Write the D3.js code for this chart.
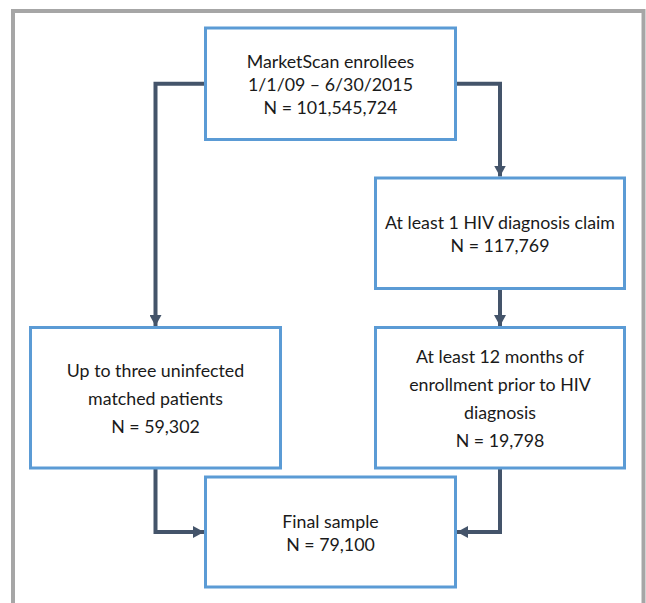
<!DOCTYPE html>
<html>
<head>
<meta charset="utf-8">
<script src="https://cdn.jsdelivr.net/npm/d3@7"></script>
<style>
  html, body { margin: 0; padding: 0; background: #fff; }
  svg { display: block; }
</style>
</head>
<body>
<div id="chart"></div>
<script>
const WIDTH = 646
const HEIGHT = 603

// box texts (one array entry per line)
const startLines = ["MarketScan enrollees", "1/1/09 \u2013 6/30/2015", "N = 101,545,724"]
const hivLines = ["At least 1 HIV diagnosis claim", "N = 117,769"]
const enrollLines = ["At least 12 months of", "enrollment prior to HIV", "diagnosis", "N = 19,798"]
const matchedLines = ["Up to three uninfected", "matched patients", "N = 59,302"]
const finalLines = ["Final sample", "N = 79,100"]

const nodeIds = ["start", "hiv", "enroll", "matched", "final"]
const nodeTexts = [startLines, hivLines, enrollLines, matchedLines, finalLines]

// which box feeds which
const edges = [
    { source: "start", target: "matched", from: "left" },
    { source: "start", target: "hiv", from: "right" },
    { source: "hiv", target: "enroll", from: "bottom" },
    { source: "matched", target: "final", from: "bottom", to: "left" },
    { source: "enroll", target: "final", from: "bottom", to: "right" }
]

// layout: column / row grid, mapped to pixels through scales
const layout = {
    start:   { col: 1, row: 0 },
    hiv:     { col: 2, row: 1 },
    enroll:  { col: 2, row: 2 },
    matched: { col: 0, row: 2 },
    final:   { col: 1, row: 3 }
}

const BOX_W = 250
const ARROW = "#44546a"
const BOX = "#5b9bd5"

let colX = d3.scaleOrdinal().domain([0, 1, 2]).range([30.5, 205.5, 375.5])
let rowY = d3.scaleOrdinal().domain([0, 1, 2, 3]).range([28, 178, 327.5, 477])
let rowH = d3.scaleOrdinal().domain([0, 1, 2, 3]).range([111.5, 110.5, 140.5, 110])
// the lower pair of boxes is set with looser line spacing
let rowLine = d3.scaleOrdinal().domain([0, 1, 2, 3]).range([23.3, 23.3, 28, 23.3])

let nodes = nodeIds.map((id, i) => {
    let l = layout[id]
    let x0 = colX(l.col)
    let y0 = rowY(l.row)
    return {
        id: id,
        lines: nodeTexts[i],
        lineH: rowLine(l.row),
        x0: x0,
        y0: y0,
        x1: x0 + BOX_W - (l.col == 2 ? 1 : 0),
        y1: y0 + rowH(l.row)
    }
})
let byId = {}
nodes.forEach(n => byId[n.id] = n)

const svg = d3.select("#chart")
    .append("svg")
    .attr("width", WIDTH)
    .attr("height", HEIGHT)
    .attr("viewBox", [0, 0, WIDTH, HEIGHT])

// outer frame
svg.append("rect")
    .attr("x", 13)
    .attr("y", 11)
    .attr("width", 630.5)
    .attr("height", 640)
    .attr("fill", "none")
    .attr("stroke", "#a6a6a6")
    .attr("stroke-width", 4)

svg.append("defs")
    .append("marker")
    .attr("id", "head")
    .attr("viewBox", "0 0 12 12")
    .attr("refX", 12)
    .attr("refY", 6)
    .attr("markerWidth", 11)
    .attr("markerHeight", 12)
    .attr("markerUnits", "userSpaceOnUse")
    .attr("orient", "auto")
    .attr("preserveAspectRatio", "none")
    .append("path")
    .attr("d", "M0,0 L12,6 L0,12 Z")
    .attr("fill", ARROW)

function cx(n) { return (n.x0 + n.x1) / 2 }
function cy(n) { return (n.y0 + n.y1) / 2 }

// elbow connectors
function edgePath(e) {
    let s = byId[e.source]
    let t = byId[e.target]
    let p = d3.path()
    if (e.from == "left") {
        p.moveTo(s.x0, cy(s))
        p.lineTo(cx(t), cy(s))
        p.lineTo(cx(t), t.y0 - 1.5)
    } else if (e.from == "right") {
        p.moveTo(s.x1, cy(s))
        p.lineTo(cx(t), cy(s))
        p.lineTo(cx(t), t.y0 - 1.5)
    } else if (e.to == "left") {
        p.moveTo(cx(s), s.y1)
        p.lineTo(cx(s), cy(t))
        p.lineTo(t.x0 - 1.5, cy(t))
    } else if (e.to == "right") {
        p.moveTo(cx(s), s.y1)
        p.lineTo(cx(s), cy(t))
        p.lineTo(t.x1 + 1.5, cy(t))
    } else {
        p.moveTo(cx(s), s.y1)
        p.lineTo(cx(t), t.y0 - 1.5)
    }
    return p.toString()
}

svg.append("g")
    .selectAll("path")
    .data(edges)
    .join("path")
        .attr("d", edgePath)
        .attr("fill", "none")
        .attr("stroke", ARROW)
        .attr("stroke-width", 4)
        .attr("marker-end", "url(#head)")

let boxes = svg.append("g")
    .selectAll("g")
    .data(nodes)
    .join("g")

boxes.append("rect")
    .attr("x", d => d.x0)
    .attr("y", d => d.y0)
    .attr("width", d => d.x1 - d.x0)
    .attr("height", d => d.y1 - d.y0)
    .attr("fill", "#fff")
    .attr("stroke", BOX)
    .attr("stroke-width", 3)

boxes.append("text")
    .attr("font-family", "Lato, 'Open Sans', sans-serif")
    .attr("font-size", 17.8)
    .attr("fill", "#1a1a1a")
    .attr("text-anchor", "middle")
    .selectAll("tspan")
    .data(d => d.lines.map((line, i) => ({
        line: line,
        x: cx(d),
        y: cy(d) + 1 + (i - (d.lines.length - 1) / 2) * d.lineH
    })))
    .join("tspan")
        .attr("x", d => d.x)
        .attr("y", d => d.y)
        .attr("dy", "0.35em")
        .text(d => d.line)
</script>
</body>
</html>
